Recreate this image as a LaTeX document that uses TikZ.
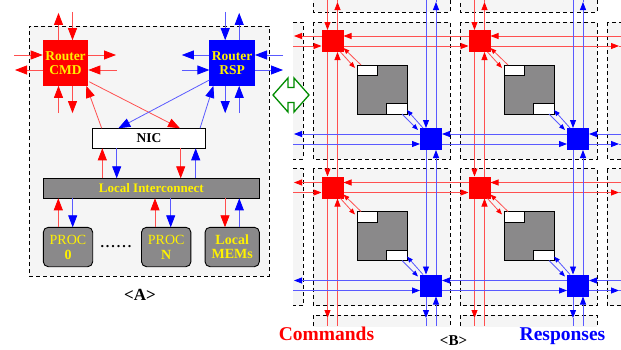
\documentclass[tikz,border=0pt]{standalone}
\usepackage{fontspec}
\setmainfont{Liberation Serif}
\usetikzlibrary{arrows.meta,calc}
\definecolor{bggray}{RGB}{245,245,245}
\definecolor{boxgray}{RGB}{138,137,138}
\definecolor{dgreen}{RGB}{0,140,0}
\definecolor{lred}{RGB}{255,80,80}
\definecolor{lblue}{RGB}{90,90,255}
\tikzset{
  every node/.style={inner sep=0pt, outer sep=0pt},
  dashbox/.style={draw=black, fill=bggray, line width=0.7pt, dash pattern=on 4pt off 3pt},
  router/.style={minimum width=45.6pt, minimum height=45.6pt, text=yellow, align=center, font=\fontsize{13.5}{14}\selectfont\bfseries},
  cmdrouter/.style={router, fill=red},
  rsprouter/.style={router, fill=blue},
  nicbox/.style={draw=black, fill=white, line width=1.3pt, minimum width=113.4pt, minimum height=20pt, font=\fontsize{13.5}{14}\selectfont\bfseries},
  libox/.style={draw=black, fill=boxgray, line width=1.3pt, minimum width=216pt, minimum height=20pt, text=yellow, font=\fontsize{13}{14}\selectfont\bfseries},
  procbox/.style={draw=black, fill=boxgray, line width=0.9pt, rounded corners=5pt, minimum height=39.4pt, text=yellow, align=center, font=\fontsize{14}{15}\selectfont},
  ra/.style={draw=lred, line width=0.8pt, -{Triangle[length=12pt,width=9pt,color=red]}},
  ba/.style={draw=lblue, line width=0.8pt, -{Triangle[length=12pt,width=9pt,color=blue]}},
  rl/.style={draw=lred, line width=0.8pt},
  bl/.style={draw=lblue, line width=0.8pt},
  rm/.style={rl, -{Triangle[length=8pt,width=6pt,color=red]}},
  bm/.style={bl, -{Triangle[length=8pt,width=6pt,color=blue]}},
  rd/.style={rl, -{Triangle[length=6pt,width=4.5pt,color=red]}},
  bd/.style={bl, -{Triangle[length=6pt,width=4.5pt,color=blue]}},
  meshred/.style={fill=red, minimum width=22pt, minimum height=22pt},
  meshblue/.style={fill=blue, minimum width=22pt, minimum height=22pt},
  cpu/.style={draw=black, fill=boxgray, line width=0.8pt, minimum width=50pt, minimum height=49pt},
  port/.style={draw=black, fill=white, line width=0.8pt, minimum width=20.5pt, minimum height=10.5pt},
  title/.style={font=\fontsize{17}{18}\selectfont\bfseries, anchor=base},
  biglabel/.style={font=\fontsize{19.5}{20}\selectfont\bfseries, anchor=base},
}
\begin{document}
\begin{tikzpicture}[x=1pt,y=-1pt]
\useasboundingbox (0,0) rectangle (621,349);

% ================= Panel A =================
\node[dashbox, minimum width=240pt, minimum height=250pt, anchor=north west] (boxA) at (29.3,26) {};
\node[cmdrouter] (cmd) at (65.5,63) {Router\\CMD};
\node[rsprouter] (rsp) at (232.2,63) {Router\\RSP};
\node[nicbox] (nic) at (149,138.3) {NIC};
\node[libox] (li) at (151.3,188.3) {Local Interconnect};
\node[procbox, minimum width=49.4pt] (p0) at (68,247) {PROC\\\textbf{0}};
\node[procbox, minimum width=49.4pt] (pn) at (166.2,247) {PROC\\\textbf{N}};
\node[procbox, minimum width=54.3pt, font=\fontsize{14}{14}\selectfont\bfseries] (mem) at (232.2,247) {Local\\MEMs};
\node[font=\fontsize{14}{15}\selectfont\bfseries, anchor=base] (dots) at (116,247.5) {.\kern2pt.\kern2pt.\kern2pt.\kern2pt.\kern2pt.};
\node[title] (labA) at (140,300.7) {<A>};

% CMD router ports
\draw[ra] ($(cmd.north)+(-7,0)$) -- ++(0,-27.3);
\draw[ra] ($(cmd.north)+(7,-28.3)$) -- ($(cmd.north)+(7,0)$);
\draw[ra] ($(cmd.south)+(-7,27.3)$) -- ($(cmd.south)+(-7,0)$);
\draw[ra] ($(cmd.south)+(7,0)$) -- ++(0,27.3);
\draw[ra] ($(cmd.west)+(-28.7,-8)$) -- ($(cmd.west)+(0,-8)$);
\draw[ra] ($(cmd.west)+(0,7)$) -- ++(-27.7,0);
\draw[ra] ($(cmd.east)+(0,-8)$) -- ++(27.7,0);
\draw[ra] ($(cmd.east)+(28.4,7)$) -- ($(cmd.east)+(0,7)$);
% RSP router ports
\draw[ba] ($(rsp.north)+(-7,-28.3)$) -- ($(rsp.north)+(-7,0)$);
\draw[ba] ($(rsp.north)+(7,0)$) -- ++(0,-27.3);
\draw[ba] ($(rsp.south)+(-7,0)$) -- ++(0,27.3);
\draw[ba] ($(rsp.south)+(7,27.3)$) -- ($(rsp.south)+(7,0)$);
\draw[ba] ($(rsp.west)+(0,-8)$) -- ++(-27.6,0);
\draw[ba] ($(rsp.west)+(-27.6,7)$) -- ($(rsp.west)+(0,7)$);
\draw[ba] ($(rsp.east)+(28,-8)$) -- ($(rsp.east)+(0,-8)$);
\draw[ba] ($(rsp.east)+(0,7)$) -- ++(28,0);
% routers <-> NIC
\draw[ra] ($(cmd.south east)+(1,-4)$) -- ($(nic.north west)+(87.7,0)$);
\draw[ra] ($(nic.north west)+(9.4,0)$) -- ($(cmd.south east)+(-2,0)$);
\draw[ba] ($(rsp.south west)+(0,-5.8)$) -- ($(nic.north west)+(26,0)$);
\draw[ba] ($(nic.north west)+(107.7,0)$) -- ($(rsp.south west)+(4,0)$);
% NIC <-> LI
\draw[ra] ($(li.north west)+(59,0)$) -- ($(nic.south west)+(10,0)$);
\draw[ba] ($(nic.south west)+(24.4,0)$) -- ($(li.north west)+(73.4,0)$);
\draw[ra] ($(nic.south west)+(88.4,0)$) -- ($(li.north west)+(137.4,0)$);
\draw[ba] ($(li.north west)+(152.4,0)$) -- ($(nic.south west)+(103.4,0)$);
% LI <-> procs
\draw[ra] ($(p0.north)+(-9.7,0)$) -- ($(p0.north)+(-9.7,-29)$);
\draw[ba] ($(p0.north)+(4.7,-29)$) -- ($(p0.north)+(4.7,0)$);
\draw[ra] ($(pn.north)+(-11.2,0)$) -- ($(pn.north)+(-11.2,-29)$);
\draw[ba] ($(pn.north)+(4.5,-29)$) -- ($(pn.north)+(4.5,0)$);
\draw[ra] ($(mem.north)+(-7.2,-29)$) -- ($(mem.north)+(-7.2,0)$);
\draw[ba] ($(mem.north)+(7.1,0)$) -- ($(mem.north)+(7.1,-29)$);

% ================= Panel B =================
\begin{scope}
\clip (293,0) rectangle (621,326);
\foreach \xa/\xb in {313/450, 460/597} {
  \draw[dashbox] (\xa,22) rectangle (\xb,159);
  \draw[dashbox] (\xa,168.5) rectangle (\xb,305.5);
  \draw[dashbox] (\xa,-200) rectangle (\xb,12);
  \draw[dashbox] (\xa,315) rectangle (\xb,500);
}
\foreach \ya/\yb in {22/159, 168.5/305.5} {
  \draw[dashbox] (100,\ya) rectangle (303,\yb);
  \draw[dashbox] (607,\ya) rectangle (800,\yb);
}
\end{scope}

\foreach \n/\X/\Y in {11/313/22, 21/460/22, 12/313/168.5, 22/460/168.5} {
  \node[meshred] (r\n) at (\X+19.5,\Y+19) {};
  \node[meshblue] (b\n) at (\X+118,\Y+117) {};
  \node[cpu] (c\n) at (\X+69,\Y+67.5) {};
  \node[port, anchor=north west] (pa\n) at (c\n.north west) {};
  \node[port, anchor=south east] (pb\n) at (c\n.south east) {};
  \draw[rd] ($(r\n.south east)+(-3,0)$) -- ($(pa\n.north west)+(-2,3)$);
  \draw[rd] ($(pa\n.north west)+(4,0)$) -- ($(r\n.south east)+(0,-4)$);
  \draw[bd] ($(pb\n.south east)+(-5,0)$) -- ($(b\n.north west)+(-2,2)$);
  \draw[bd] ($(b\n.north west)+(3,0)$) -- ($(pb\n.south east)+(0,-4)$);
}

% red rows
\foreach \j/\ry in {1/41, 2/187.5} {
  \draw[rm] (621,\ry-5) -- ($(r2\j.east)+(0,-5)$);
  \draw[rm] ($(r2\j.west)+(0,-5)$) -- ($(r1\j.east)+(0,-5)$);
  \draw[rm] ($(r1\j.west)+(0,-5)$) -- (294,\ry-5);
  \draw[rm] (293,\ry+5) -- ($(r1\j.west)+(0,5)$);
  \draw[rm] ($(r1\j.east)+(0,5)$) -- ($(r2\j.west)+(0,5)$);
  \draw[rm] ($(r2\j.east)+(0,5)$) -- (619,\ry+5);
  \draw[rl] (619,\ry+5) -- (621,\ry+5);
}
% red columns
\foreach \i/\rx in {1/332.5, 2/479.5} {
  \draw[rm] (\rx-5,0) -- ($(r\i1.north)+(-5,0)$);
  \draw[rm] ($(r\i1.south)+(-5,0)$) -- ($(r\i2.north)+(-5,0)$);
  \draw[rm] ($(r\i2.south)+(-5,0)$) -- (\rx-5,318);
  \draw[rl] (\rx-5,318) -- (\rx-5,326);
  \draw[rm] (\rx+5,326) -- ($(r\i2.south)+(5,0)$);
  \draw[rm] ($(r\i2.north)+(5,0)$) -- ($(r\i1.south)+(5,0)$);
  \draw[rm] ($(r\i1.north)+(5,0)$) -- (\rx+5,2);
  \draw[rl] (\rx+5,2) -- (\rx+5,0);
}
% blue rows
\foreach \j/\by in {1/139, 2/285.5} {
  \draw[bm] (621,\by-5) -- ($(b2\j.east)+(0,-5)$);
  \draw[bm] ($(b2\j.west)+(0,-5)$) -- ($(b1\j.east)+(0,-5)$);
  \draw[bm] ($(b1\j.west)+(0,-5)$) -- (294,\by-5);
  \draw[bm] (293,\by+5) -- ($(b1\j.west)+(0,5)$);
  \draw[bm] ($(b1\j.east)+(0,5)$) -- ($(b2\j.west)+(0,5)$);
  \draw[bm] ($(b2\j.east)+(0,5)$) -- (619,\by+5);
  \draw[bl] (619,\by+5) -- (621,\by+5);
}
% blue columns
\foreach \i/\bx in {1/431, 2/578} {
  \draw[bm] (\bx-5,0) -- ($(b\i1.north)+(-5,0)$);
  \draw[bm] ($(b\i1.south)+(-5,0)$) -- ($(b\i2.north)+(-5,0)$);
  \draw[bm] ($(b\i2.south)+(-5,0)$) -- (\bx-5,318);
  \draw[bl] (\bx-5,318) -- (\bx-5,326);
  \draw[bm] (\bx+5,326) -- ($(b\i2.south)+(5,0)$);
  \draw[bm] ($(b\i2.north)+(5,0)$) -- ($(b\i1.south)+(5,0)$);
  \draw[bm] ($(b\i1.north)+(5,0)$) -- (\bx+5,2);
  \draw[bl] (\bx+5,2) -- (\bx+5,0);
}

% green double arrow
\draw[draw=dgreen, fill=white, line width=1.3pt, line join=miter]
  (273,95) -- (288,78) -- (288,87.5) -- (294,87.5) -- (294,78) -- (309,95)
  -- (294,112) -- (294,102.5) -- (288,102.5) -- (288,112) -- cycle;

\node[biglabel, text=red] (labC) at (326.5,340) {Commands};
\node[biglabel, text=blue] (labR) at (562.5,340) {Responses};
\node[title, font=\fontsize{15}{16}\selectfont\bfseries] (labB) at (453.5,345.5) {<B>};
\end{tikzpicture}
\end{document}
